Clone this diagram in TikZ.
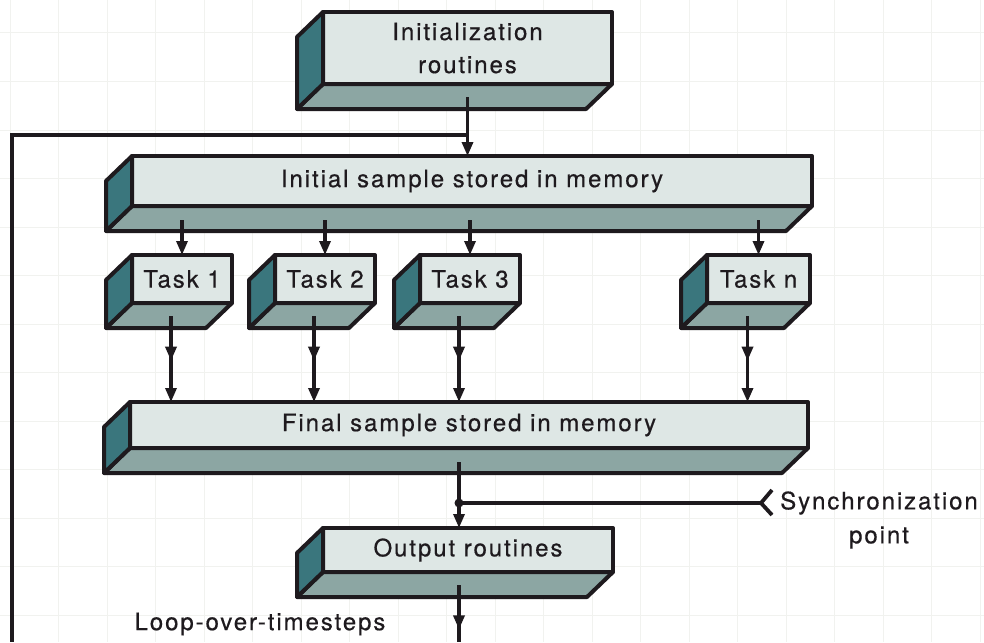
\documentclass[tikz,border=0pt]{standalone}
\usepackage{fontspec}
\setmainfont{TeX Gyre Heros}[LetterSpace=8, FakeBold=0.5]
\usetikzlibrary{arrows.meta,decorations.markings}

\definecolor{facecol}{RGB}{222,231,229}
\definecolor{sidecol}{RGB}{58,118,125}
\definecolor{basecol}{RGB}{140,166,163}
\definecolor{inkcol}{RGB}{30,26,30}
\definecolor{gridcol}{RGB}{241,242,239}

\tikzset{
  front/.style={draw=inkcol, fill=facecol, line width=4pt, line join=round,
    outer sep=0pt, inner sep=0pt, text=inkcol, align=center,
    font=\fontsize{24}{33}\selectfont},
  sideface/.style={draw=inkcol, fill=sidecol, line width=4pt, line join=round},
  baseface/.style={draw=inkcol, fill=basecol, line width=4pt, line join=round},
  wire/.style={draw=inkcol, line width=3.2pt},
  conn/.style={wire, -{Triangle[width=11pt,length=14pt]}},
  midtip/.style={postaction={decorate}, decoration={markings,
    mark=at position #1 with {\arrow{Triangle[width=11pt,length=14pt]}}}},
  lbl/.style={text=inkcol, align=center, inner sep=0pt,
    font=\fontsize{24}{34}\selectfont},
}

% a slab: front face as a named node, with its left and bottom faces
\newcommand{\slab}[6]{%
  \node[front, minimum width=#4pt, minimum height=#5pt] (#1) at (#2,#3) {#6};
  \draw[baseface] (#1.south west) -- (#1.south east) -- ++(-26,25)
    -- ([shift={(-26,25)}]#1.south west) -- cycle;
  \draw[sideface] (#1.north west) -- ++(-26,25)
    -- ([shift={(-26,25)}]#1.south west) -- (#1.south west) -- cycle;
}

\begin{document}
\begin{tikzpicture}[x=1pt,y=-1pt]
\useasboundingbox (0,0) rectangle (984,642);
\fill[white] (0,0) rectangle (984,642);

% faint graph-paper grid
\foreach \i in {0,...,20} \draw[gridcol, line width=1pt] (10+48.5*\i,0) -- (10+48.5*\i,642);
\foreach \j in {0,...,13} \draw[gridcol, line width=1pt] (0,-15.5+48.5*\j) -- (984,-15.5+48.5*\j);

% blocks
\slab{init}{467.5}{48}{289}{72}{Initialization\\routines}
\slab{initial}{472}{181}{680}{50}{Initial sample stored in memory}
\slab{t1}{182}{279}{100}{48}{Task 1}
\slab{t2}{325}{279}{100}{48}{Task 2}
\slab{t3}{470}{279}{100}{48}{Task 3}
\slab{tn}{758.5}{279}{103}{48}{Task n}
\slab{final}{469}{425}{678}{46}{Final sample stored in memory}
\slab{output}{468}{550}{290}{44}{Output routines}

% helper points
\coordinate (loopjoin) at (467.5,135);
\coordinate (loopcorner) at (12,135);
\coordinate (loopend) at (12,642);
\coordinate (sync) at (459,503);
\coordinate (chev) at (761,503);
\coordinate (exit) at (459,642);

% initialization -> initial sample, with the loop return
\draw[conn] ([yshift=-13pt]init.south) -- (init.south |- initial.north);
\draw[wire] (loopjoin) -- (loopcorner) -- (loopend);

% initial sample -> tasks
\foreach \t in {t1,t2,t3,tn}
  \draw[conn] ([yshift=-14pt]\t.north |- initial.south) -- (\t.north);

% tasks -> final sample
\foreach \t in {t1,t2,t3,tn}
  \draw[conn, midtip=0.52] ([shift={(-11,13)}]\t.south) -- ([xshift=-11pt]\t.south |- final.north);

% final sample -> output, synchronization point
\draw[conn] ([yshift=-14pt]sync |- final.south) -- (sync |- output.north);
\fill[inkcol] (sync) circle (4.5pt);
\draw[wire] (sync) -- (chev);
\draw[inkcol, line width=3.8pt, line join=miter] (772,490) -- (chev) -- (772,515);
\node[lbl] (synclab) at (879,520) {Synchronization\\point};

% output -> next timestep
\draw[wire, midtip=0.78] ([yshift=-13pt]sync |- output.south) -- (exit);
\node[lbl] (looplab) at (260,624) {Loop-over-timesteps};
\end{tikzpicture}
\end{document}
